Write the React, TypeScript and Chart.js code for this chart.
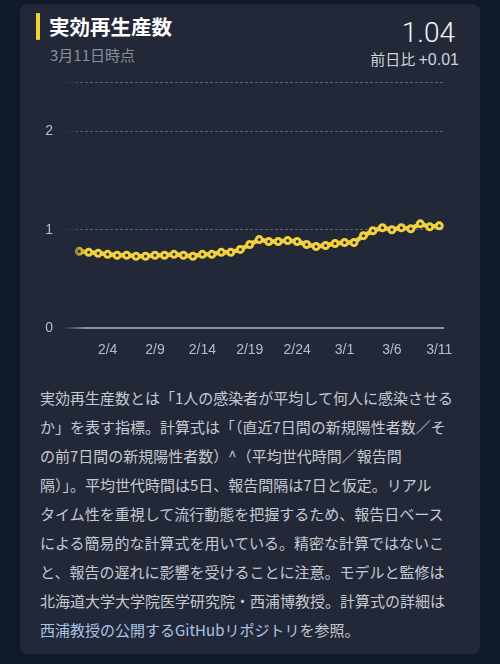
import React, { useEffect, useRef } from "react";
import { Chart, registerables } from "chart.js";

Chart.register(...registerables);

const dates = [
  "2/1", "2/2", "2/3", "2/4", "2/5", "2/6", "2/7", "2/8", "2/9", "2/10",
  "2/11", "2/12", "2/13", "2/14", "2/15", "2/16", "2/17", "2/18", "2/19", "2/20",
  "2/21", "2/22", "2/23", "2/24", "2/25", "2/26", "2/27", "2/28", "3/1", "3/2",
  "3/3", "3/4", "3/5", "3/6", "3/7", "3/8", "3/9", "3/10", "3/11",
];

const rtValues = [
  0.78, 0.77, 0.76, 0.75, 0.74, 0.74, 0.73, 0.73, 0.74, 0.74,
  0.75, 0.74, 0.73, 0.75, 0.75, 0.77, 0.77, 0.80, 0.85, 0.90,
  0.88, 0.88, 0.89, 0.88, 0.85, 0.83, 0.84, 0.86, 0.87, 0.87,
  0.94, 0.99, 1.02, 1.00, 1.02, 1.01, 1.06, 1.03, 1.04,
];

const xLabelDates = ["2/4", "2/9", "2/14", "2/19", "2/24", "3/1", "3/6", "3/11"];
const yTickValues = [0, 1, 2, 2.5];
const yTickLabels = ["0", "1", "2", ""];

const BG = "#0f1a2b";
const CARD = "#232839";
const YELLOW = "#f1d23c";

const descLines = [
  "実効再生産数とは「1人の感染者が平均して何人に感染させる",
  "か」を表す指標。計算式は「（直近7日間の新規陽性者数／そ",
  "の前7日間の新規陽性者数）^（平均世代時間／報告間",
  "隔）」。平均世代時間は5日、報告間隔は7日と仮定。リアル",
  "タイム性を重視して流行動態を把握するため、報告日ベース",
  "による簡易的な計算式を用いている。精密な計算ではないこ",
  "と、報告の遅れに影響を受けることに注意。モデルと監修は",
  "北海道大学大学院医学研究院・西浦博教授。計算式の詳細は",
];

const fadePlugin = {
  id: "leftFade",
  afterDatasetsDraw(chart: any) {
    const { ctx, chartArea } = chart;
    const x0 = chartArea.left - 2;
    const x1 = chartArea.left + 21;
    const g = ctx.createLinearGradient(x0, 0, x1, 0);
    g.addColorStop(0, "rgba(35,40,57,1)");
    g.addColorStop(1, "rgba(35,40,57,0)");
    ctx.save();
    ctx.fillStyle = g;
    ctx.fillRect(x0, chartArea.top - 6, x1 - x0, chartArea.bottom - chartArea.top + 10);
    ctx.restore();
  },
};

function RtChart() {
  const ref = useRef<HTMLCanvasElement | null>(null);
  useEffect(() => {
    if (!ref.current) return;
    const chart = new Chart(ref.current, {
      type: "line",
      data: {
        datasets: [
          {
            data: rtValues.map((v, i) => ({ x: i, y: v })),
            borderColor: YELLOW,
            borderWidth: 4.5,
            pointRadius: 3,
            pointBorderWidth: 3,
            pointBackgroundColor: CARD,
            pointBorderColor: YELLOW,
            tension: 0,
          },
        ],
      },
      options: {
        animation: false,
        responsive: true,
        maintainAspectRatio: false,
        layout: { padding: { top: 0, right: 26, left: 0, bottom: 0 } },
        plugins: { legend: { display: false }, tooltip: { enabled: false } },
        scales: {
          x: {
            type: "linear",
            min: -1.5,
            max: 38.5,
            afterBuildTicks: (scale: any) => {
              scale.ticks = dates.map((_, i) => ({ value: i }));
            },
            afterFit: (scale: any) => {
              scale.height = 40;
            },
            grid: { display: false, drawTicks: false },
            border: { display: false },
            ticks: {
              autoSkip: false,
              maxRotation: 0,
              padding: 14,
              color: "#b8bcc5",
              font: { family: "'Liberation Sans', Arial, sans-serif", size: 14 },
              callback: (value: any) => {
                const d = dates[value as number];
                return xLabelDates.includes(d) ? d : "";
              },
            },
          },
          y: {
            type: "linear",
            min: 0,
            max: 2.5,
            afterBuildTicks: (scale: any) => {
              scale.ticks = yTickValues.map((v) => ({ value: v }));
            },
            afterFit: (scale: any) => {
              scale.width = 37;
            },
            border: {
              display: false,
              dash: (ctx: any) => (ctx.tick && ctx.tick.value === 0 ? [] : [3, 2]),
            },
            grid: {
              drawTicks: false,
              color: (ctx: any) => (ctx.tick && ctx.tick.value === 0 ? "#8e929c" : "#5e6374"),
              lineWidth: (ctx: any) => (ctx.tick && ctx.tick.value === 0 ? 2 : 1),
            },
            ticks: {
              padding: 12,
              color: "#b8bcc5",
              font: { family: "'Liberation Sans', Arial, sans-serif", size: 14 },
              callback: (value: any) => {
                const idx = yTickValues.indexOf(value as number);
                return idx >= 0 ? yTickLabels[idx] : "";
              },
            },
          },
        },
      } as any,
      plugins: [fadePlugin],
    });
    return () => chart.destroy();
  }, []);
  return (
    <div style={{ position: "absolute", left: 28, top: 62, width: 442, height: 306 }}>
      <canvas ref={ref} />
    </div>
  );
}

export default function App() {
  const jp = "'Noto Sans CJK JP', sans-serif";
  return (
    <div style={{ position: "fixed", left: 0, top: 0, width: 500, height: 664, background: BG, overflow: "hidden", fontFamily: jp }}>
      <div style={{ position: "absolute", left: 20, top: 4, width: 460, height: 650, background: CARD, borderRadius: 8 }} />
      <div style={{ position: "absolute", left: 36, top: 13, width: 4, height: 27, background: YELLOW, borderRadius: 1 }} />
      <div style={{ position: "absolute", left: 49, top: 11, lineHeight: "30px", fontSize: 20.5, fontWeight: 700, color: "#ffffff", whiteSpace: "nowrap" }}>
        実効再生産数
      </div>
      <div style={{ position: "absolute", left: 50, top: 45, lineHeight: "20px", fontSize: 15, color: "#8b8f9a", whiteSpace: "nowrap" }}>
        3月11日時点
      </div>
      <div style={{ position: "absolute", right: 45, top: 19, lineHeight: "28px", fontSize: 28, fontWeight: 300, color: "#f2f3f5", fontFamily: "Roboto, 'Liberation Sans', sans-serif", whiteSpace: "nowrap" }}>
        1.04
      </div>
      <div style={{ position: "absolute", right: 41, top: 49, lineHeight: "20px", fontSize: 15, color: "#cfd2d8", whiteSpace: "nowrap" }}>
        前日比 <span style={{ fontFamily: "'Liberation Sans', sans-serif", fontSize: 16 }}>+0.01</span>
      </div>
      <RtChart />
      <div style={{ position: "absolute", left: 40, top: 383, fontSize: 15, lineHeight: "29px", color: "#c6c9d0", whiteSpace: "nowrap" }}>
        {descLines.map((l, i) => (
          <div key={i}>{l}</div>
        ))}
        <div>
          <span style={{ color: "#a9c3e6" }}>西浦教授の公開するGitHubリポジトリ</span>を参照。
        </div>
      </div>
    </div>
  );
}
